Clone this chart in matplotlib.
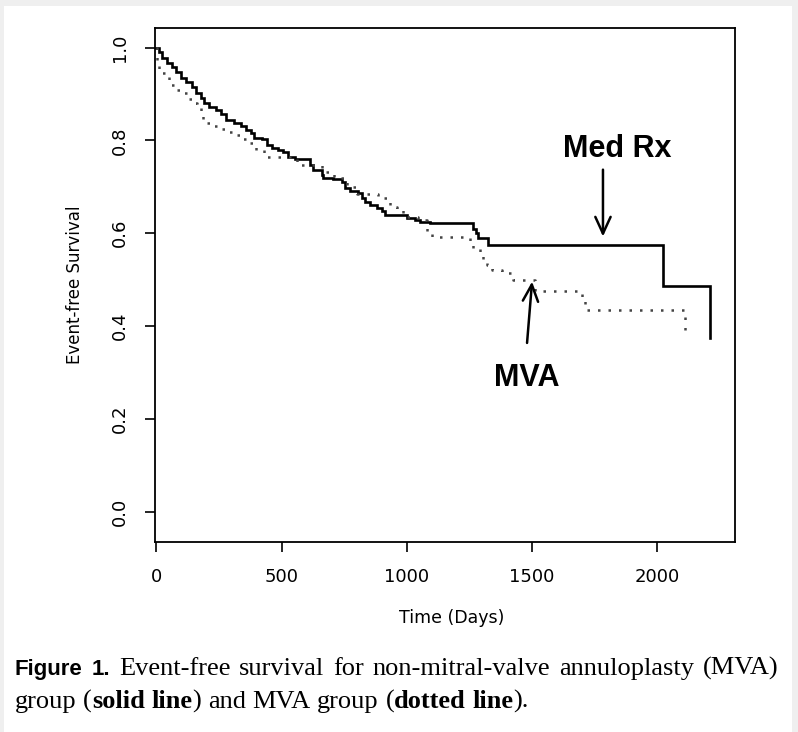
import matplotlib
matplotlib.use('Agg')
import matplotlib.pyplot as plt
from matplotlib.patches import Rectangle

# ---------------- data ----------------
medrx_time = [0, 12, 24, 44, 64, 80, 100, 120, 144, 160,
              180, 192, 212, 240, 260, 280, 312, 340, 360, 380,
              392, 424, 444, 460, 484, 504, 524, 552, 572, 612,
              624, 660, 664, 704, 740, 752, 772, 804, 820, 832,
              852, 880, 900, 912, 1000, 1032, 1052, 1092, 1264, 1276,
              1284, 1324, 2024, 2212]
medrx_surv = [1.0, 0.991, 0.978, 0.967, 0.959, 0.948, 0.935, 0.925, 0.914, 0.903,
              0.892, 0.881, 0.871, 0.866, 0.856, 0.845, 0.838, 0.830, 0.823, 0.817,
              0.806, 0.802, 0.791, 0.784, 0.780, 0.774, 0.765, 0.761, 0.759, 0.748,
              0.737, 0.726, 0.720, 0.716, 0.711, 0.698, 0.690, 0.687, 0.677, 0.668,
              0.662, 0.655, 0.647, 0.640, 0.634, 0.629, 0.625, 0.623, 0.61, 0.60,
              0.59, 0.575, 0.486, 0.375]

mva_time = [0, 2, 12, 40, 52, 80, 104, 124, 144, 164,
            180, 188, 220, 252, 284, 312, 340, 360, 400, 432,
            560, 660, 710, 760, 800, 884, 932, 960, 984, 1000,
            1044, 1080, 1100, 1252, 1264, 1292, 1304, 1320, 1340, 1380,
            1424, 1510, 1700, 1712, 2112]
mva_surv = [1.0, 0.963, 0.946, 0.938, 0.920, 0.909, 0.903, 0.890, 0.881, 0.873,
            0.856, 0.838, 0.830, 0.825, 0.819, 0.812, 0.802, 0.795, 0.780, 0.765,
            0.748, 0.733, 0.720, 0.700, 0.685, 0.677, 0.657, 0.651, 0.644, 0.636,
            0.629, 0.603, 0.593, 0.580, 0.569, 0.560, 0.543, 0.532, 0.522, 0.515,
            0.500, 0.476, 0.455, 0.435, 0.375]

x_ticks = [0, 500, 1000, 1500, 2000]
y_ticks = [0.0, 0.2, 0.4, 0.6, 0.8, 1.0]
y_tick_labels = ["0.0", "0.2", "0.4", "0.6", "0.8", "1.0"]

x_label = "Time (Days)"
y_label = "Event-free Survival"
medrx_label = "Med Rx"
mva_label = "MVA"

# annotation anchors (data coords)
medrx_text_pos = (1840, 0.782)
medrx_arrow_tail = (1783, 0.737)
medrx_arrow_tip = (1783, 0.593)
mva_text_pos = (1480, 0.288)
mva_arrow_tail = (1480, 0.364)
mva_arrow_tip = (1500, 0.496)

# ---------------- figure ----------------
W, H = 798, 732
fig = plt.figure(figsize=(W / 100, H / 100), dpi=100)
fig.patch.set_facecolor('#efefef')
fig.add_artist(Rectangle((4 / W, 0), (792 - 4) / W, (H - 6) / H,
                         transform=fig.transFigure, facecolor='white',
                         edgecolor='none', zorder=0))

ax = fig.add_axes([155 / W, 1 - 542 / H, 580 / W, 514 / H])
ax.step(medrx_time, medrx_surv, where='post', color='black', lw=1.9,
        solid_joinstyle='miter')
ax.step(mva_time, mva_surv, where='post', color='#444444', lw=1.8,
        linestyle=(0, (1, 3.2)))

ax.set_xlim(-5, 2310)
ax.set_ylim(-0.0646, 1.042)
for s in ax.spines.values():
    s.set_linewidth(1.3)
    s.set_color('black')

ax.set_xticks(x_ticks)
ax.set_xticklabels([str(v) for v in x_ticks])
ax.set_yticks(y_ticks)
ax.set_yticklabels(y_tick_labels, rotation=90, va='center')
ax.tick_params(axis='both', direction='out', length=7.5, width=1.2,
               labelsize=13, colors='black')
ax.tick_params(axis='x', pad=11)
ax.tick_params(axis='y', pad=11)

fig.text(452 / W, 1 - 618 / H, x_label, ha='center', va='center', fontsize=12.5)
fig.text(75 / W, 1 - 285 / H, y_label, ha='center', va='center', fontsize=12,
         rotation=90)

arrow_kw = dict(arrowstyle='->,head_length=1.2,head_width=0.55', lw=1.8,
                color='black', shrinkA=0, shrinkB=0)
ax.annotate('', xy=medrx_arrow_tip, xytext=medrx_arrow_tail, arrowprops=arrow_kw)
ax.annotate('', xy=mva_arrow_tip, xytext=mva_arrow_tail, arrowprops=arrow_kw)
ax.text(*medrx_text_pos, medrx_label, ha='center', va='center', fontsize=22,
        fontweight='bold', family='Liberation Sans')
ax.text(*mva_text_pos, mva_label, ha='center', va='center', fontsize=22,
        fontweight='bold', family='Liberation Sans')

# ---------------- caption ----------------
renderer = fig.canvas.get_renderer()
SERIF = 'Liberation Serif'
CAP_SIZE = 19
styles = {
    'F': dict(family='Liberation Sans', fontweight='bold', fontsize=16),
    'N': dict(family=SERIF, fontsize=CAP_SIZE),
    'B': dict(family=SERIF, fontweight='bold', fontsize=CAP_SIZE),
}

def measure(txt, st):
    t = fig.text(0, 0, txt, **styles[st])
    w = t.get_window_extent(renderer).width
    t.remove()
    return w

space_w = measure('a a', 'N') - measure('aa', 'N')

def place_line(tokens, y_px, x0, x1=None):
    widths = [measure(t, s) for t, s, _ in tokens]
    nspaces = sum(1 for _, _, sp in tokens if sp)
    if x1 is not None:
        gap = (x1 - x0 - sum(widths)) / nspaces
    else:
        gap = space_w
    x = x0
    for (t, s, sp), w in zip(tokens, widths):
        if sp:
            x += gap
        fig.text(x / W, 1 - y_px / H, t, ha='left', va='baseline', **styles[s])
        x += w

line1 = [("Figure", 'F', False), ("1.", 'F', True), ("Event-free", 'N', True),
         ("survival", 'N', True), ("for", 'N', True), ("non-mitral-valve", 'N', True),
         ("annuloplasty", 'N', True), ("(MVA)", 'N', True)]
line2 = [("group", 'N', False), ("(", 'N', True), ("solid", 'B', False),
         ("line", 'B', True), (")", 'N', False), ("and", 'N', True),
         ("MVA", 'N', True), ("group", 'N', True), ("(", 'N', True),
         ("dotted", 'B', False), ("line", 'B', True), (").", 'N', False)]
place_line(line1, 675, 15, 778)
place_line(line2, 708, 15)

fig.savefig('out.png', dpi=100, facecolor=fig.get_facecolor())
